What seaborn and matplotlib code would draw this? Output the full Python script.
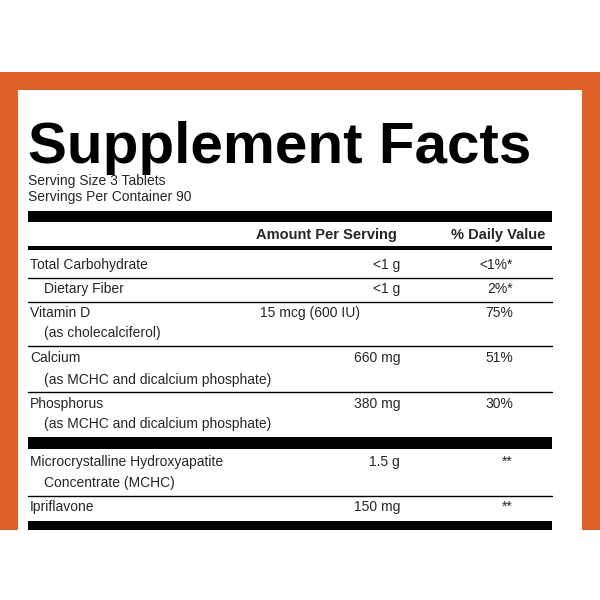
import matplotlib.pyplot as plt
import matplotlib.patches as mpatches
import seaborn as sns

sns.set_theme(style="white")
plt.rcParams['font.family'] = ['Liberation Sans', 'DejaVu Sans']

title = "Supplement Facts"
serving_lines = ["Serving Size 3 Tablets", "Servings Per Container 90"]
headers = ["Amount Per Serving", "% Daily Value"]

nutrients = ["Total Carbohydrate", "Dietary Fiber", "Vitamin D", "Calcium", "Phosphorus",
             "Microcrystalline Hydroxyapatite", "Ipriflavone"]
sub_lines = ["", "", "(as cholecalciferol)", "(as MCHC and dicalcium phosphate)",
             "(as MCHC and dicalcium phosphate)", "Concentrate (MCHC)", ""]
amounts = ["<1 g", "<1 g", "15 mcg (600 IU)", "660 mg", "380 mg", "1.5 g", "150 mg"]
daily_values = ["<1%*", "2%*", "75%", "51%", "30%", "**", "**"]

row_y = [265, 289, 313, 358, 404, 462, 507]
sub_y = [0, 0, 333, 380, 424, 483, 0]
rule_after = [278, 302, 346, 392, None, 496, None]
indent = [30, 44, 30, 30, 30, 30, 30]
amount_x = [400, 400, 360, 400, 400, 400, 400]

orange = "#E0622A"

fig = plt.figure(figsize=(6, 6), dpi=100)
ax = fig.add_axes([0, 0, 1, 1])
ax.set_xlim(0, 600)
ax.set_ylim(600, 0)
ax.axis('off')

ax.add_patch(mpatches.Rectangle((0, 72), 600, 458, color=orange, lw=0))
ax.add_patch(mpatches.Rectangle((18, 90), 564, 440, color="white", lw=0))

ax.text(28, 148, title, fontsize=42, fontweight='bold', va='center', ha='left', color='black')
ax.text(28, 181, serving_lines[0], fontsize=10, va='center')
ax.text(28, 197, serving_lines[1], fontsize=10, va='center')

ax.add_patch(mpatches.Rectangle((28, 211), 524, 11, color='black', lw=0))
ax.text(326, 235, headers[0], fontsize=10.5, fontweight='bold', ha='center', va='center')
ax.text(498, 235, headers[1], fontsize=10.5, fontweight='bold', ha='center', va='center')
ax.add_patch(mpatches.Rectangle((28, 246), 524, 4, color='black', lw=0))

for i, name in enumerate(nutrients):
    ax.text(indent[i], row_y[i], name, fontsize=10, va='center')
    if sub_lines[i]:
        ax.text(44, sub_y[i], sub_lines[i], fontsize=10, va='center')
    ax.text(amount_x[i], row_y[i], amounts[i], fontsize=10, va='center', ha='right')
    ax.text(513, row_y[i], daily_values[i], fontsize=10, va='center', ha='right')
    if rule_after[i]:
        ax.plot([28, 552], [rule_after[i], rule_after[i]], color='black', lw=1)

ax.add_patch(mpatches.Rectangle((28, 437), 524, 12, color='black', lw=0))
ax.add_patch(mpatches.Rectangle((28, 521), 524, 9, color='black', lw=0))

fig.savefig("out.png", dpi=100)
